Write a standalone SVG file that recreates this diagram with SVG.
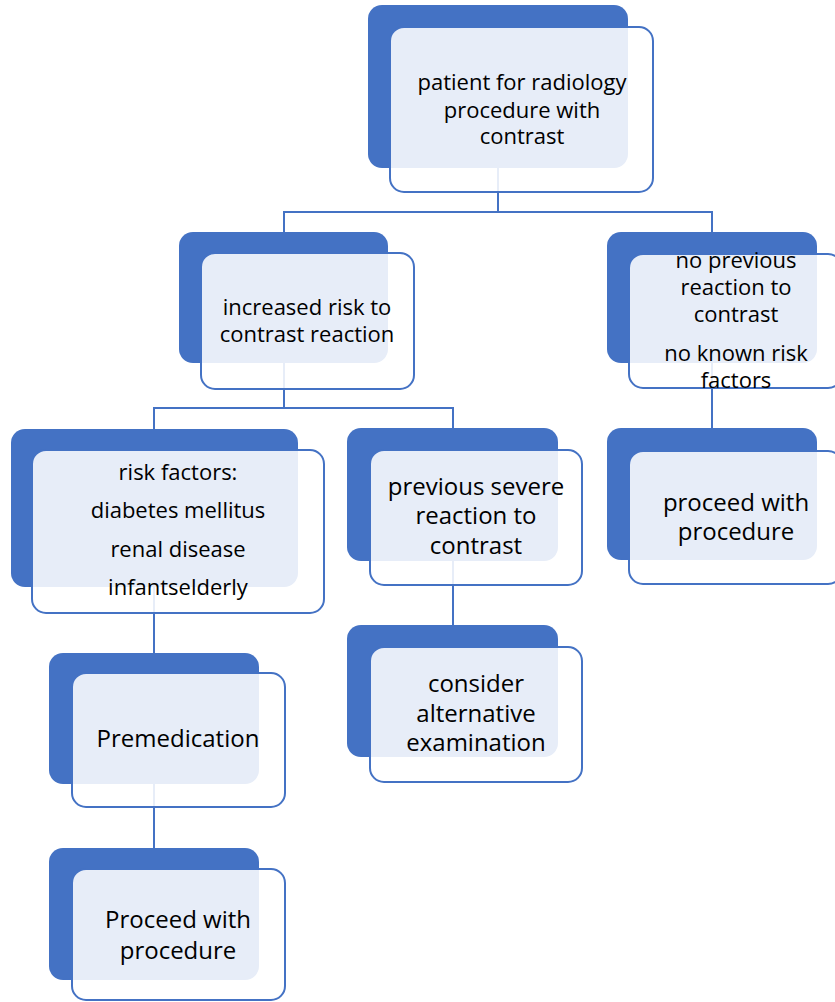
<svg xmlns="http://www.w3.org/2000/svg" width="835" height="1002" viewBox="0 0 835 1002">
<style>
.bk{fill:#4472C4;}
.fr{fill:#ffffff;fill-opacity:0.87;stroke:#4472C4;stroke-width:2;}
.cn{fill:none;stroke:#4472C4;stroke-width:2;}
text{font-family:"Open Sans","Noto Sans",sans-serif;fill:#000;text-anchor:middle;}
.s{font-size:22px;}
.l{font-size:24px;}
</style>
<rect width="835" height="1002" fill="#ffffff"/>
<g id="connectors">
<path class="cn" d="M498,168 V212 M284,212 H712 M284,211 V232 M712,211 V232"/>
<path class="cn" d="M284,363 V408 M154,408 H453 M154,407 V429 M453,407 V428"/>
<path class="cn" d="M712,363 V428"/>
<path class="cn" d="M154,587 V653"/>
<path class="cn" d="M453,561 V625"/>
<path class="cn" d="M154,784 V848"/>
</g>
<g id="n1">
<rect class="bk" x="368" y="5" width="260" height="163" rx="14"/>
<rect class="fr" x="390" y="27" width="263" height="165" rx="14"/>
<text class="s"><tspan x="522" y="90">patient for radiology</tspan><tspan x="522" y="118">procedure with</tspan><tspan x="522" y="144">contrast</tspan></text>
</g>
<g id="n2">
<rect class="bk" x="179" y="232" width="209" height="131" rx="14"/>
<rect class="fr" x="201" y="253" width="213" height="136" rx="14"/>
<text class="s"><tspan x="307" y="315">increased risk to</tspan><tspan x="307" y="342">contrast reaction</tspan></text>
</g>
<g id="n3">
<rect class="bk" x="607" y="232" width="210" height="131" rx="14"/>
<rect class="fr" x="629" y="254" width="213" height="134" rx="14"/>
<text class="s"><tspan x="736" y="268">no previous</tspan><tspan x="736" y="295">reaction to</tspan><tspan x="736" y="322">contrast</tspan><tspan x="736" y="361">no known risk</tspan><tspan x="736" y="388">factors</tspan></text>
</g>
<g id="n4">
<rect class="bk" x="607" y="428" width="210" height="132" rx="14"/>
<rect class="fr" x="629" y="451" width="213" height="133" rx="14"/>
<text class="l"><tspan x="736" y="511">proceed with</tspan><tspan x="736" y="540">procedure</tspan></text>
</g>
<g id="n5">
<rect class="bk" x="11" y="429" width="287" height="158" rx="14"/>
<rect class="fr" x="32" y="450" width="292" height="163" rx="14"/>
<text class="s"><tspan x="178" y="480">risk factors:</tspan><tspan x="178" y="518">diabetes mellitus</tspan><tspan x="178" y="557">renal disease</tspan><tspan x="178" y="595">infantselderly</tspan></text>
</g>
<g id="n6">
<rect class="bk" x="347" y="428" width="211" height="133" rx="14"/>
<rect class="fr" x="370" y="450" width="212" height="135" rx="14"/>
<text class="l"><tspan x="476" y="495">previous severe</tspan><tspan x="476" y="524">reaction to</tspan><tspan x="476" y="554">contrast</tspan></text>
</g>
<g id="n7">
<rect class="bk" x="347" y="625" width="211" height="132" rx="14"/>
<rect class="fr" x="370" y="647" width="212" height="135" rx="14"/>
<text class="l"><tspan x="476" y="692">consider</tspan><tspan x="476" y="722">alternative</tspan><tspan x="476" y="751">examination</tspan></text>
</g>
<g id="n8">
<rect class="bk" x="49" y="653" width="210" height="131" rx="14"/>
<rect class="fr" x="72" y="673" width="213" height="134" rx="14"/>
<text class="l"><tspan x="178" y="747">Premedication</tspan></text>
</g>
<g id="n9">
<rect class="bk" x="49" y="848" width="210" height="132" rx="14"/>
<rect class="fr" x="72" y="869" width="213" height="131" rx="14"/>
<text class="l"><tspan x="178" y="928">Proceed with</tspan><tspan x="178" y="959">procedure</tspan></text>
</g>
</svg>
